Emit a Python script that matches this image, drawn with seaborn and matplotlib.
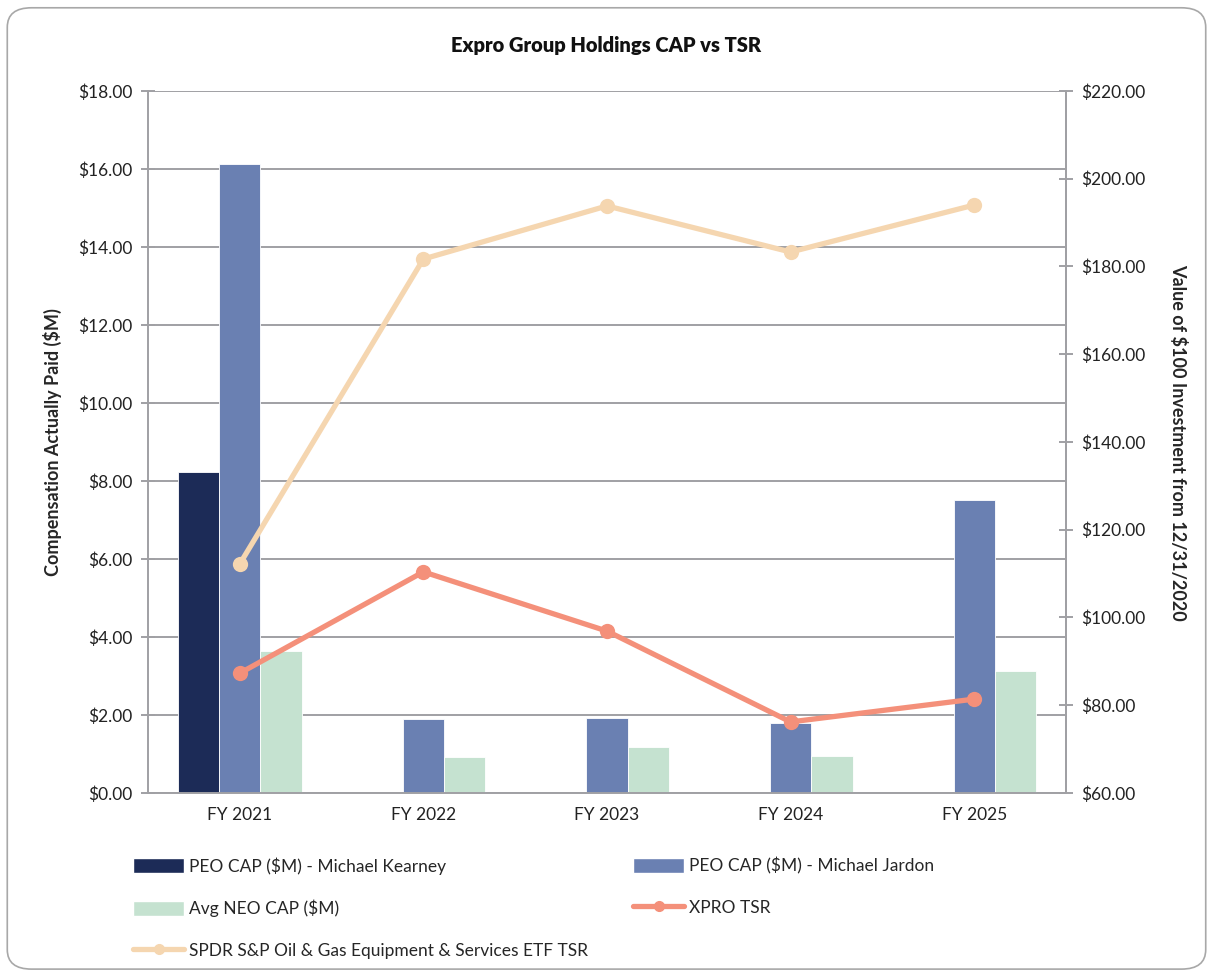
import matplotlib
matplotlib.use("Agg")
import matplotlib.pyplot as plt
import seaborn as sns
import pandas as pd
import numpy as np
from matplotlib.patches import FancyBboxPatch, Patch
from matplotlib.lines import Line2D
from matplotlib.ticker import FuncFormatter, MultipleLocator, FixedLocator

years = ["FY 2021", "FY 2022", "FY 2023", "FY 2024", "FY 2025"]
kearney = [8.22, np.nan, np.nan, np.nan, np.nan]
jardon = [16.12, 1.90, 1.92, 1.79, 7.51]
avg_neo = [3.63, 0.92, 1.17, 0.96, 3.13]
xpro_tsr = [87.3, 110.4, 96.9, 76.2, 81.4]
spdr_tsr = [112.2, 181.7, 193.8, 183.3, 194.0]

s_kearney = "PEO CAP ($M) - Michael Kearney"
s_jardon = "PEO CAP ($M) - Michael Jardon"
s_neo = "Avg NEO CAP ($M)"
s_xpro = "XPRO TSR"
s_spdr = "SPDR S&P Oil & Gas Equipment & Services ETF TSR"

c_kearney = "#1C2B57"
c_jardon = "#6A80B2"
c_neo = "#C5E2D0"
c_xpro = "#F4907A"
c_spdr = "#F5D6B0"
grid_c = "#A0A0A4"

sns.set_theme(style="white")
plt.rcParams['font.family'] = ['Lato', 'DejaVu Sans']

rows = []
for i, y in enumerate(years):
    for name, arr in [(s_kearney, kearney), (s_jardon, jardon), (s_neo, avg_neo)]:
        if not np.isnan(arr[i]):
            rows.append({"year": y, "series": name, "value": arr[i]})
df = pd.DataFrame(rows)

fig = plt.figure(figsize=(12.13, 9.73), dpi=100)
border = FancyBboxPatch((0.006, 0.004), 0.988, 0.988, boxstyle="round,pad=0,rounding_size=0.02",
                        transform=fig.transFigure, facecolor="white", edgecolor="#A8A8A8",
                        linewidth=1.2, zorder=-10)
fig.patches.append(border)

ax = fig.add_axes([0.122, 0.185, 0.7568, 0.7215])
ax.set_facecolor("none")
sns.barplot(data=df, x="year", y="value", hue="series", order=years,
            hue_order=[s_kearney, s_jardon, s_neo],
            palette=[c_kearney, c_jardon, c_neo], width=0.675, dodge=True,
            edgecolor="white", linewidth=0.6, errorbar=None, ax=ax, legend=False,
            saturation=1)
ax.set_xlim(-0.5, 4.5)
ax.set_ylim(0, 18)
ax.yaxis.set_major_locator(MultipleLocator(2))
ax.yaxis.set_major_formatter(FuncFormatter(lambda v, p: f"${v:,.2f}"))
ax.set_axisbelow(True)
ax.grid(axis="y", color=grid_c, linewidth=1.4)
ax.set_xlabel("")
ax.set_ylabel("Compensation Actually Paid ($M)", fontsize=13, fontweight="bold", labelpad=12)
for sp in ["left", "bottom", "right"]:
    ax.spines[sp].set_color(grid_c)
    ax.spines[sp].set_linewidth(1.4)
ax.spines["top"].set_visible(False)
ax.tick_params(axis="x", which="major", length=0, labelsize=12.5, pad=10, colors="#222222")
ax.xaxis.set_minor_locator(FixedLocator([-0.5, 0.5, 1.5, 2.5, 3.5, 4.5]))
ax.tick_params(axis="x", which="minor", length=10, width=1.4, direction="inout", color=grid_c)
ax.tick_params(axis="y", length=10, width=1.4, direction="inout", color=grid_c, labelsize=12.5,
               labelcolor="#222222", pad=6)

ax2 = ax.twinx()
x = np.arange(len(years))
sns.lineplot(x=x, y=xpro_tsr, ax=ax2, color=c_xpro, linewidth=3.8, marker="o",
             markersize=11, markeredgewidth=0, label=s_xpro, legend=False)
sns.lineplot(x=x, y=spdr_tsr, ax=ax2, color=c_spdr, linewidth=3.8, marker="o",
             markersize=11, markeredgewidth=0, label=s_spdr, legend=False)
ax2.set_ylim(60, 220)
ax2.set_xlim(-0.5, 4.5)
ax2.yaxis.set_major_locator(MultipleLocator(20))
ax2.yaxis.set_major_formatter(FuncFormatter(lambda v, p: f"${v:,.2f}"))
ax2.set_ylabel("Value of $100 Investment from 12/31/2020", fontsize=13, fontweight="bold",
               rotation=270, labelpad=30)
for sp in ["left", "bottom", "top"]:
    ax2.spines[sp].set_visible(False)
ax2.spines["right"].set_color(grid_c)
ax2.spines["right"].set_linewidth(1.4)
ax2.tick_params(axis="y", length=10, width=1.4, direction="inout", color=grid_c, labelsize=12.5,
                labelcolor="#222222", pad=6)
ax2.grid(False)

fig.text(0.5, 0.953, "Expro Group Holdings CAP vs TSR", ha="center", va="center",
         fontsize=14.5, fontweight="heavy", color="#111111")

h_k = Patch(facecolor=c_kearney, label=s_kearney)
h_j = Patch(facecolor=c_jardon, label=s_jardon)
h_n = Patch(facecolor=c_neo, label=s_neo)
h_x = Line2D([], [], color=c_xpro, linewidth=3.8, marker="o", markersize=7, label=s_xpro)
h_s = Line2D([], [], color=c_spdr, linewidth=3.8, marker="o", markersize=7, label=s_spdr)

leg_kw = dict(frameon=False, fontsize=12.5, handlelength=2.95, handleheight=0.95,
              labelspacing=1.45, handletextpad=0.25, borderaxespad=0, borderpad=0)
fig.legend(handles=[h_k, h_n, h_s], loc="upper left", bbox_to_anchor=(0.1096, 0.119), **leg_kw)
fig.legend(handles=[h_j, h_x], loc="upper left", bbox_to_anchor=(0.522, 0.119), **leg_kw)

fig.savefig("out.png", dpi=100)
